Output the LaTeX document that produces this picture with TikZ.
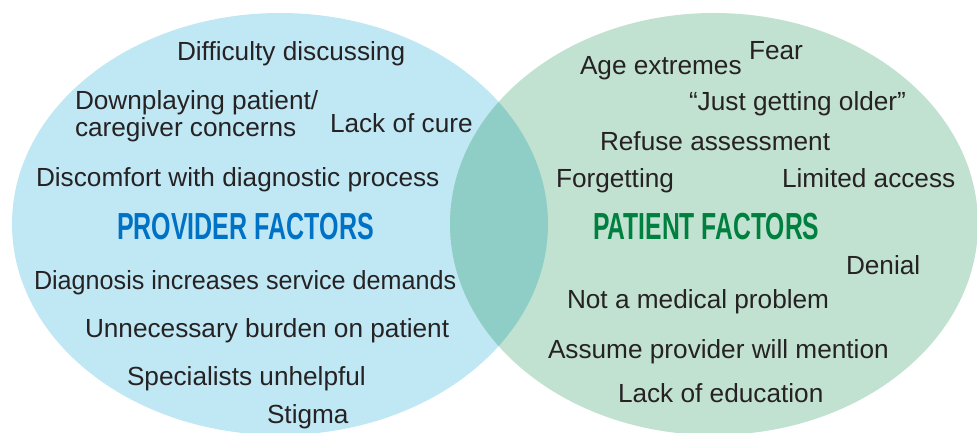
\documentclass[tikz,border=0pt]{standalone}
\usepackage{fontspec}
\setmainfont{Liberation Sans}
\usepackage{graphicx}
\usetikzlibrary{positioning}
\definecolor{pblue}{RGB}{191,232,244}
\definecolor{pgreen}{RGB}{193,225,209}
\definecolor{pteal}{RGB}{143,206,199}
\definecolor{dblue}{RGB}{0,114,198}
\definecolor{dgreen}{RGB}{0,128,62}
\definecolor{dtext}{RGB}{38,34,35}

\begin{document}
\begin{tikzpicture}[x=1pt,y=-1pt,every node/.style={inner sep=0pt,outer sep=0pt,anchor=base west,text=dtext,font=\fontsize{26.2}{27}\selectfont}]

\useasboundingbox (0,0) rectangle (977,433);

% draw the two sets and their overlap
\def\providerSet{(280,224) ellipse [x radius=268, y radius=211]}
\def\patientSet{(714,224) ellipse [x radius=264, y radius=211]}
\fill[pblue] \providerSet;
\fill[pgreen] \patientSet;
\begin{scope}
\clip \providerSet;
\fill[pteal] \patientSet;
\end{scope}

% the headings
\node[text=dblue,font=\bfseries\fontsize{37.7}{40}\selectfont] (provider) at (117,239) {\scalebox{0.664}[1]{PROVIDER FACTORS}};
\node[text=dgreen,font=\bfseries\fontsize{37.7}{40}\selectfont] (patient) at (593,239) {\scalebox{0.655}[1]{PATIENT FACTORS}};

% provider factors
\foreach \x/\y/\nm/\txt in {
	177/61/difficulty/{Difficulty discussing},
	330/133/cure/{Lack of cure},
	36/186/discomfort/{Discomfort with diagnostic process},
	34/289/demands/{\scalebox{0.96}[1]{Diagnosis increases service demands}},
	85/337/burden/{Unnecessary burden on patient},
	127/385/specialists/{Specialists unhelpful},
	267/423/stigma/{Stigma}}
\node (\nm) at (\x,\y) {\txt};
\node[align=left] (downplay) at (75,136) {Downplaying patient/\\caregiver concerns};

% patient factors
\foreach \x/\y/\nm/\txt in {
	580/75/age/{Age extremes},
	749/60/fear/{Fear},
	689/111/older/{“Just getting older”},
	600/150/refuse/{Refuse assessment},
	556/187/forget/{Forgetting},
	782/187/access/{Limited access},
	846/274/denial/{Denial},
	567/308/medical/{Not a medical problem},
	548/358/assume/{Assume provider will mention},
	618/402/education/{Lack of education}}
\node (\nm) at (\x,\y) {\txt};

\end{tikzpicture}
\end{document}
